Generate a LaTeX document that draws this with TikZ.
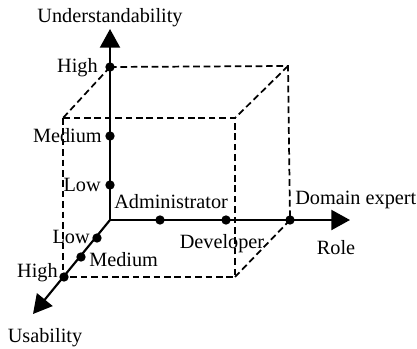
\documentclass[tikz,border=0pt]{standalone}
\usepackage{fontspec}
\setmainfont{Liberation Serif}
\usetikzlibrary{arrows.meta}

\begin{document}
\begin{tikzpicture}[x=0.75pt,y=0.75pt,yscale=-1,xscale=1,
        axisline/.style={line width=1.6pt,-{Triangle[length=14pt,width=15pt]}},
        boxedge/.style={line width=1.3pt,dash pattern=on 5pt off 2.8pt},
        dot/.style={circle,fill=black,inner sep=0pt,minimum size=7pt},
        lbl/.style={inner sep=0.75pt,font=\fontsize{15.2}{18}\selectfont}]
        \useasboundingbox (0,0) rectangle (417,349);
        % axes
        \coordinate (O) at (110,220);
        \coordinate (utip) at (110,29);
        \coordinate (rtip) at (350,220);
        \coordinate (stip) at (33,314);
        % box corners
        \coordinate (bk) at (288,66);
        \coordinate (ftl) at (63,118);
        \coordinate (ftr) at (235,118);
        \coordinate (fbr) at (235,277);
        \draw [axisline] (O) -- (utip);
        \draw [axisline] (O) -- (rtip);
        \draw [axisline] (O) -- (stip);
        % points on the axes
        \node [dot] (uhigh) at (110,67) {};
        \node [dot] (umed) at (110,136) {};
        \node [dot] (ulow) at (110,185) {};
        \node [dot] (radm) at (160,220) {};
        \node [dot] (rdev) at (226,220) {};
        \node [dot] (rdom) at (290,220) {};
        \node [dot] (slow) at (97,238) {};
        \node [dot] (smed) at (81,257) {};
        \node [dot] (shigh) at (64,277) {};
        % dashed box
        \draw [boxedge] (uhigh.center) -- (bk) -- (rdom.center);
        \draw [boxedge] (ftl) rectangle (fbr);
        \draw [boxedge] (uhigh.center) -- (ftl);
        \draw [boxedge] (bk) -- (ftr);
        \draw [boxedge] (rdom.center) -- (fbr);
        % labels
        \draw (110,18) node [lbl] {Understandability};
        \draw (99,68) node [lbl,anchor=east] {High};
        \draw (103,136) node [lbl,anchor=east] {Medium};
        \draw (102,185) node [lbl,anchor=east] {Low};
        \draw (113,202) node [lbl,anchor=west] {Administrator};
        \draw (222,244) node [lbl] {Developer};
        \draw (294,200) node [lbl,anchor=west] {Domain expert};
        \draw (336,248) node [lbl] {Role};
        \draw (91,237) node [lbl,anchor=east] {Low};
        \draw (88,260) node [lbl,anchor=west] {Medium};
        \draw (59,273) node [lbl,anchor=east] {High};
        \draw (45,338) node [lbl] {Usability};
\end{tikzpicture}
\end{document}
